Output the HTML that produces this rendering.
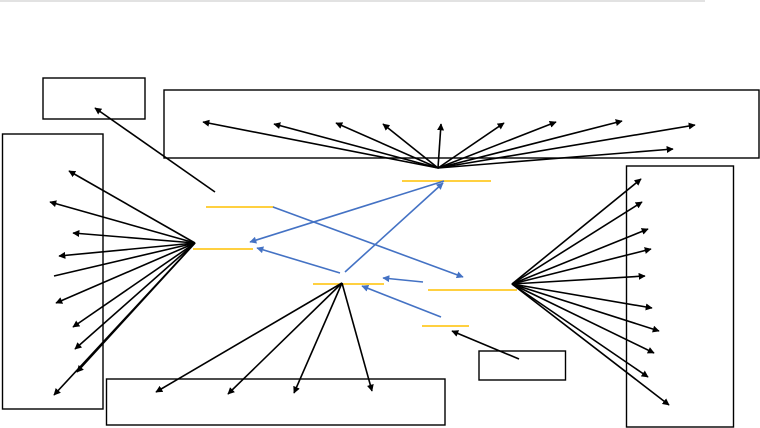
<!DOCTYPE html>
<html><head><meta charset="utf-8"><style>html,body{margin:0;padding:0;background:#fff}svg{display:block}</style></head>
<body>
<svg width="760" height="428" viewBox="0 0 760 428" xmlns="http://www.w3.org/2000/svg">
<defs>
<marker id="k" viewBox="0 0 10 10" refX="9" refY="5" markerWidth="7" markerHeight="7" orient="auto" markerUnits="userSpaceOnUse"><path d="M0,0L10,5L0,10z" fill="#000"/></marker>
<marker id="b" viewBox="0 0 10 10" refX="9" refY="5" markerWidth="7" markerHeight="7" orient="auto" markerUnits="userSpaceOnUse"><path d="M0,0L10,5L0,10z" fill="#4472C4"/></marker>
</defs>
<line x1="0" y1="1" x2="705" y2="1" stroke="#d9d9d9" stroke-width="1.5"/>
<g fill="none" stroke="#000" stroke-width="1.4">
<rect x="43" y="78" width="102" height="41"/>
<rect x="164" y="90" width="595" height="68"/>
<rect x="2.5" y="134" width="100.5" height="275"/>
<rect x="106.5" y="379" width="338.5" height="46"/>
<rect x="626.5" y="166" width="107" height="261"/>
<rect x="479" y="351" width="86.5" height="29"/>
</g>
<g stroke="#FFC000" stroke-width="1.6">
<line x1="206" y1="207" x2="274" y2="207"/>
<line x1="193" y1="249" x2="253" y2="249"/>
<line x1="402" y1="181" x2="491" y2="181"/>
<line x1="313" y1="284" x2="384" y2="284"/>
<line x1="428" y1="290" x2="517" y2="290"/>
<line x1="422" y1="326" x2="469" y2="326"/>
</g>
<g stroke="#000" stroke-width="1.6" marker-end="url(#k)">
<line x1="215" y1="192" x2="95" y2="108"/>
<line x1="519" y1="359" x2="452" y2="331"/>
<line x1="438" y1="168" x2="203" y2="122"/>
<line x1="438" y1="168" x2="274" y2="124"/>
<line x1="438" y1="168" x2="336" y2="123"/>
<line x1="438" y1="168" x2="383" y2="124"/>
<line x1="438" y1="168" x2="441" y2="124"/>
<line x1="438" y1="168" x2="504" y2="123"/>
<line x1="438" y1="168" x2="556" y2="122"/>
<line x1="438" y1="168" x2="622" y2="121"/>
<line x1="438" y1="168" x2="695" y2="125"/>
<line x1="438" y1="168" x2="673" y2="149"/>
<line x1="195" y1="243" x2="69" y2="171"/>
<line x1="195" y1="243" x2="50" y2="202"/>
<line x1="195" y1="243" x2="73" y2="233"/>
<line x1="195" y1="243" x2="59" y2="256"/>
<line x1="195" y1="243" x2="56" y2="303"/>
<line x1="195" y1="243" x2="73" y2="327"/>
<line x1="195" y1="243" x2="75" y2="349"/>
<line x1="195" y1="243" x2="77" y2="372"/>
<line x1="195" y1="243" x2="54" y2="395"/>
<line x1="342" y1="283" x2="156" y2="392"/>
<line x1="342" y1="283" x2="228" y2="394"/>
<line x1="342" y1="283" x2="294" y2="393"/>
<line x1="342" y1="283" x2="372" y2="391"/>
<line x1="512" y1="284" x2="641" y2="179"/>
<line x1="512" y1="284" x2="642" y2="202"/>
<line x1="512" y1="284" x2="648" y2="229"/>
<line x1="512" y1="284" x2="651" y2="249"/>
<line x1="512" y1="284" x2="645" y2="276"/>
<line x1="512" y1="284" x2="652" y2="308"/>
<line x1="512" y1="284" x2="659" y2="331"/>
<line x1="512" y1="284" x2="654" y2="353"/>
<line x1="512" y1="284" x2="648" y2="377"/>
<line x1="512" y1="284" x2="669" y2="405"/>
</g>
<line x1="195" y1="243" x2="54" y2="276" stroke="#000" stroke-width="1.6"/>
<g stroke="#4472C4" stroke-width="1.6" marker-end="url(#b)">
<line x1="273" y1="207" x2="463" y2="277"/>
<line x1="345" y1="272" x2="443" y2="183"/>
<line x1="444" y1="181" x2="250" y2="242"/>
<line x1="340" y1="273" x2="257" y2="248"/>
<line x1="423" y1="282" x2="383" y2="278"/>
<line x1="441" y1="317" x2="362" y2="286"/>
</g>
</svg>
</body></html>
